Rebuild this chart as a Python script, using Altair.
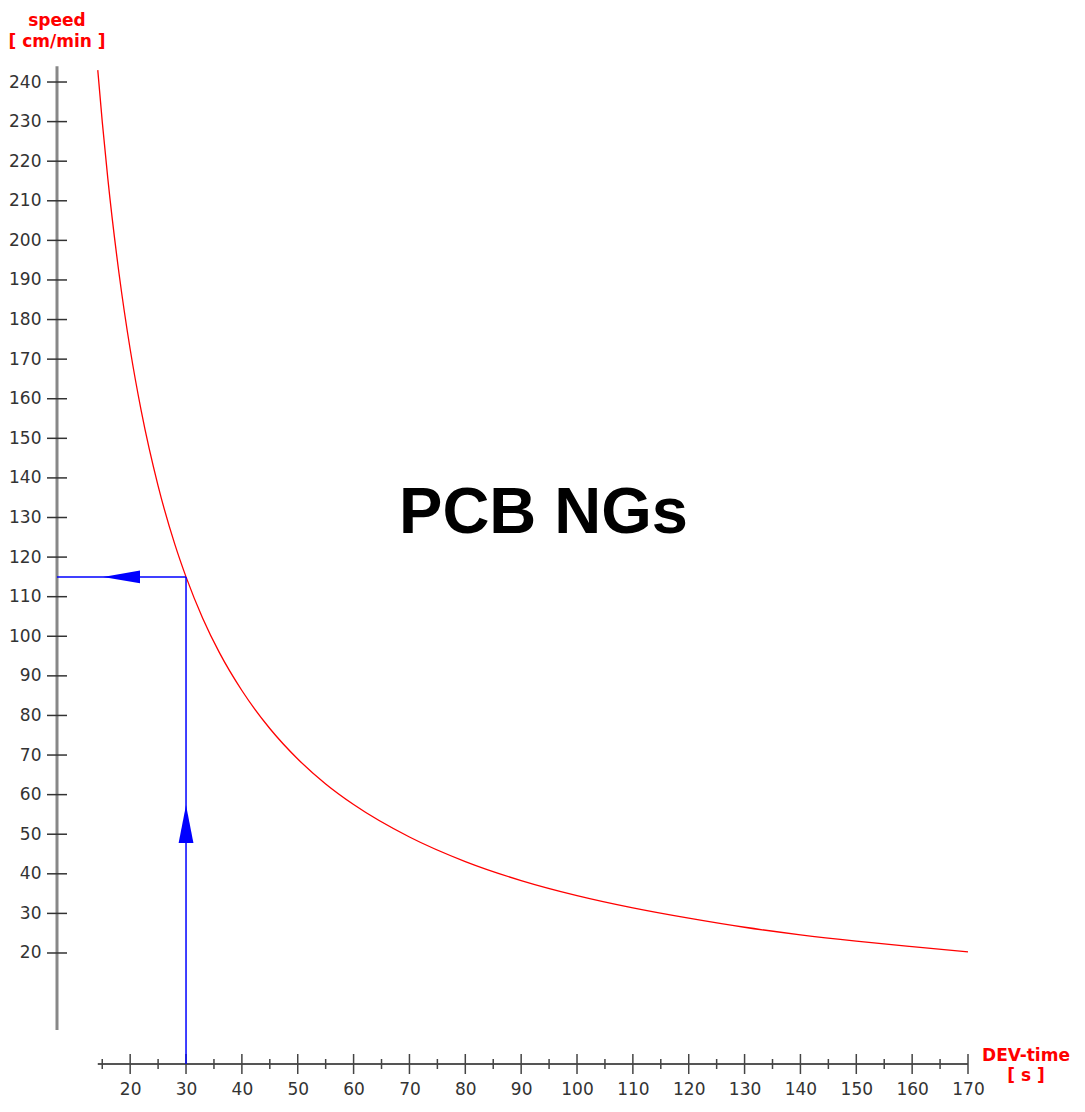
import altair as alt
import pandas as pd

# ---- data ----
dev_time = [14.2, 15, 16, 18, 20, 22, 25, 28, 30, 33, 36, 40, 45, 50, 55, 60,
            70, 80, 90, 100, 110, 120, 130, 140, 150, 160, 170]
speed = [243.0, 230.0, 215.6, 191.7, 172.5, 156.8, 138.0, 123.2, 115.0, 104.5,
         95.8, 86.3, 76.7, 69.0, 62.7, 57.5, 49.3, 43.1, 38.3, 34.5, 31.4, 28.8,
         26.5, 24.6, 23.0, 21.6, 20.3]

y_tick_values = list(range(20, 241, 10))
x_major_ticks = list(range(20, 171, 10))
x_minor_ticks = list(range(15, 166, 10))

sel_time = 30
sel_speed = 115

X_MIN, X_MAX = 6.9, 170.0
Y_MIN, Y_MAX = -8.04, 244.55
Y_AXIS_TOP, Y_AXIS_BOTTOM = 244.0, 0.55
X_AXIS_START = 14.2

W, H = 911, 1000

XS = alt.Scale(domain=[X_MIN, X_MAX], nice=False, zero=False)
YS = alt.Scale(domain=[Y_MIN, Y_MAX], nice=False, zero=False)

FONT = "DejaVu Sans"

AX_X = alt.Axis(
    values=x_major_ticks, orient="bottom", domain=False, ticks=False,
    tickSize=0, labelPadding=17, labelFontSize=17, labelColor="#333333",
    labelFont=FONT, title=None, grid=False, labelFlush=False,
    labelOverlap=False, labelBound=False)
AX_Y = alt.Axis(
    values=y_tick_values, orient="left", domain=False, ticks=False,
    tickSize=0, labelPadding=16, labelFontSize=17, labelColor="#333333",
    labelFont=FONT, title=None, grid=False, labelFlush=False,
    labelOverlap=False, labelBound=False)

curve_df = pd.DataFrame({"t": dev_time, "v": speed})
guides_df = pd.DataFrame({
    "x": [sel_time, X_MIN],
    "x2": [sel_time, sel_time],
    "y": [Y_MIN, sel_speed],
    "y2": [sel_speed, sel_speed],
})
yaxis_df = pd.DataFrame({"y": [Y_AXIS_TOP], "y2": [Y_AXIS_BOTTOM]})
xaxis_df = pd.DataFrame({"x": [X_AXIS_START], "x2": [X_MAX]})
yticks_df = pd.DataFrame({"v": y_tick_values})
xmaj_df = pd.DataFrame({"v": x_major_ticks})
xmin_df = pd.DataFrame({"v": x_minor_ticks})
up_arrow_df = pd.DataFrame({"x": [sel_time], "y": [52.6]})
left_arrow_df = pd.DataFrame({"x": [18.45], "y": [sel_speed]})


def X(field):
    return alt.X(field, scale=XS, axis=AX_X)


def Y(field):
    return alt.Y(field, scale=YS, axis=AX_Y)


curve = alt.Chart(curve_df).mark_line(
    color="#ff0000", strokeWidth=1.3, interpolate="monotone"
).encode(x=X("t:Q"), y=Y("v:Q"))

y_axis_line = alt.Chart(yaxis_df).mark_rule(color="#888888", strokeWidth=3).encode(
    x=alt.value(0), y=Y("y:Q"), y2="y2:Q",
)
y_ticks = alt.Chart(yticks_df).mark_rule(color="#333333", strokeWidth=1.5).encode(
    y=Y("v:Q"), x=alt.value(-10), x2=alt.value(10),
)
x_axis_line = alt.Chart(xaxis_df).mark_rule(color="#555555", strokeWidth=2).encode(
    x=X("x:Q"), x2="x2:Q", y=alt.value(H),
)
x_major = alt.Chart(xmaj_df).mark_rule(color="#444444", strokeWidth=1.5).encode(
    x=X("v:Q"), y=alt.value(H - 10), y2=alt.value(H + 10),
)
x_minor = alt.Chart(xmin_df).mark_rule(color="#444444", strokeWidth=1.5).encode(
    x=X("v:Q"), y=alt.value(H - 5), y2=alt.value(H + 5),
)

guides = alt.Chart(guides_df).mark_rule(color="#0000ff", strokeWidth=1.5).encode(
    x=X("x:Q"), x2="x2:Q", y=Y("y:Q"), y2="y2:Q",
)

up_arrow = alt.Chart(up_arrow_df).mark_point(
    shape="M 0 -1 L 0.39 1 L -0.39 1 Z", size=1444, filled=True,
    color="#0000ff", opacity=1, strokeWidth=0
).encode(x=X("x:Q"), y=Y("y:Q"))
left_arrow = alt.Chart(left_arrow_df).mark_point(
    shape="M -1 0 L 1 -0.34 L 1 0.34 Z", size=1369, filled=True,
    color="#0000ff", opacity=1, strokeWidth=0
).encode(x=X("x:Q"), y=Y("y:Q"))


def label(text, x, y, size, color, font, baseline="middle"):
    return alt.Chart(pd.DataFrame({"t": [text]})).mark_text(
        fontSize=size, fontWeight="bold", color=color, font=font,
        align="center", baseline=baseline
    ).encode(text="t:N", x=alt.value(x), y=alt.value(y))


t_speed = label("speed", 0, -43, 17, "#ff0000", FONT)
t_unit = label("[ cm/min ]", 0, -22, 17, "#ff0000", FONT)
t_dev = label("DEV-time", 969, 992, 17, "#ff0000", FONT)
t_s = label("[ s ]", 969, 1012, 17, "#ff0000", FONT)
t_title = label("PCB NGs", 486.5, 469, 65, "#000000", "Liberation Sans",
                baseline="alphabetic")

chart = alt.layer(
    curve, y_axis_line, y_ticks, x_axis_line, x_major, x_minor, guides,
    up_arrow, left_arrow, t_speed, t_unit, t_dev, t_s, t_title
).properties(
    width=W, height=H,
    background="white",
    autosize=alt.AutoSizeParams(type="none"),
    padding={"left": 49, "top": 56, "right": 105, "bottom": 34},
).configure_view(stroke=None)

chart.save("out.html", embed_options={"renderer": "svg", "actions": False})
